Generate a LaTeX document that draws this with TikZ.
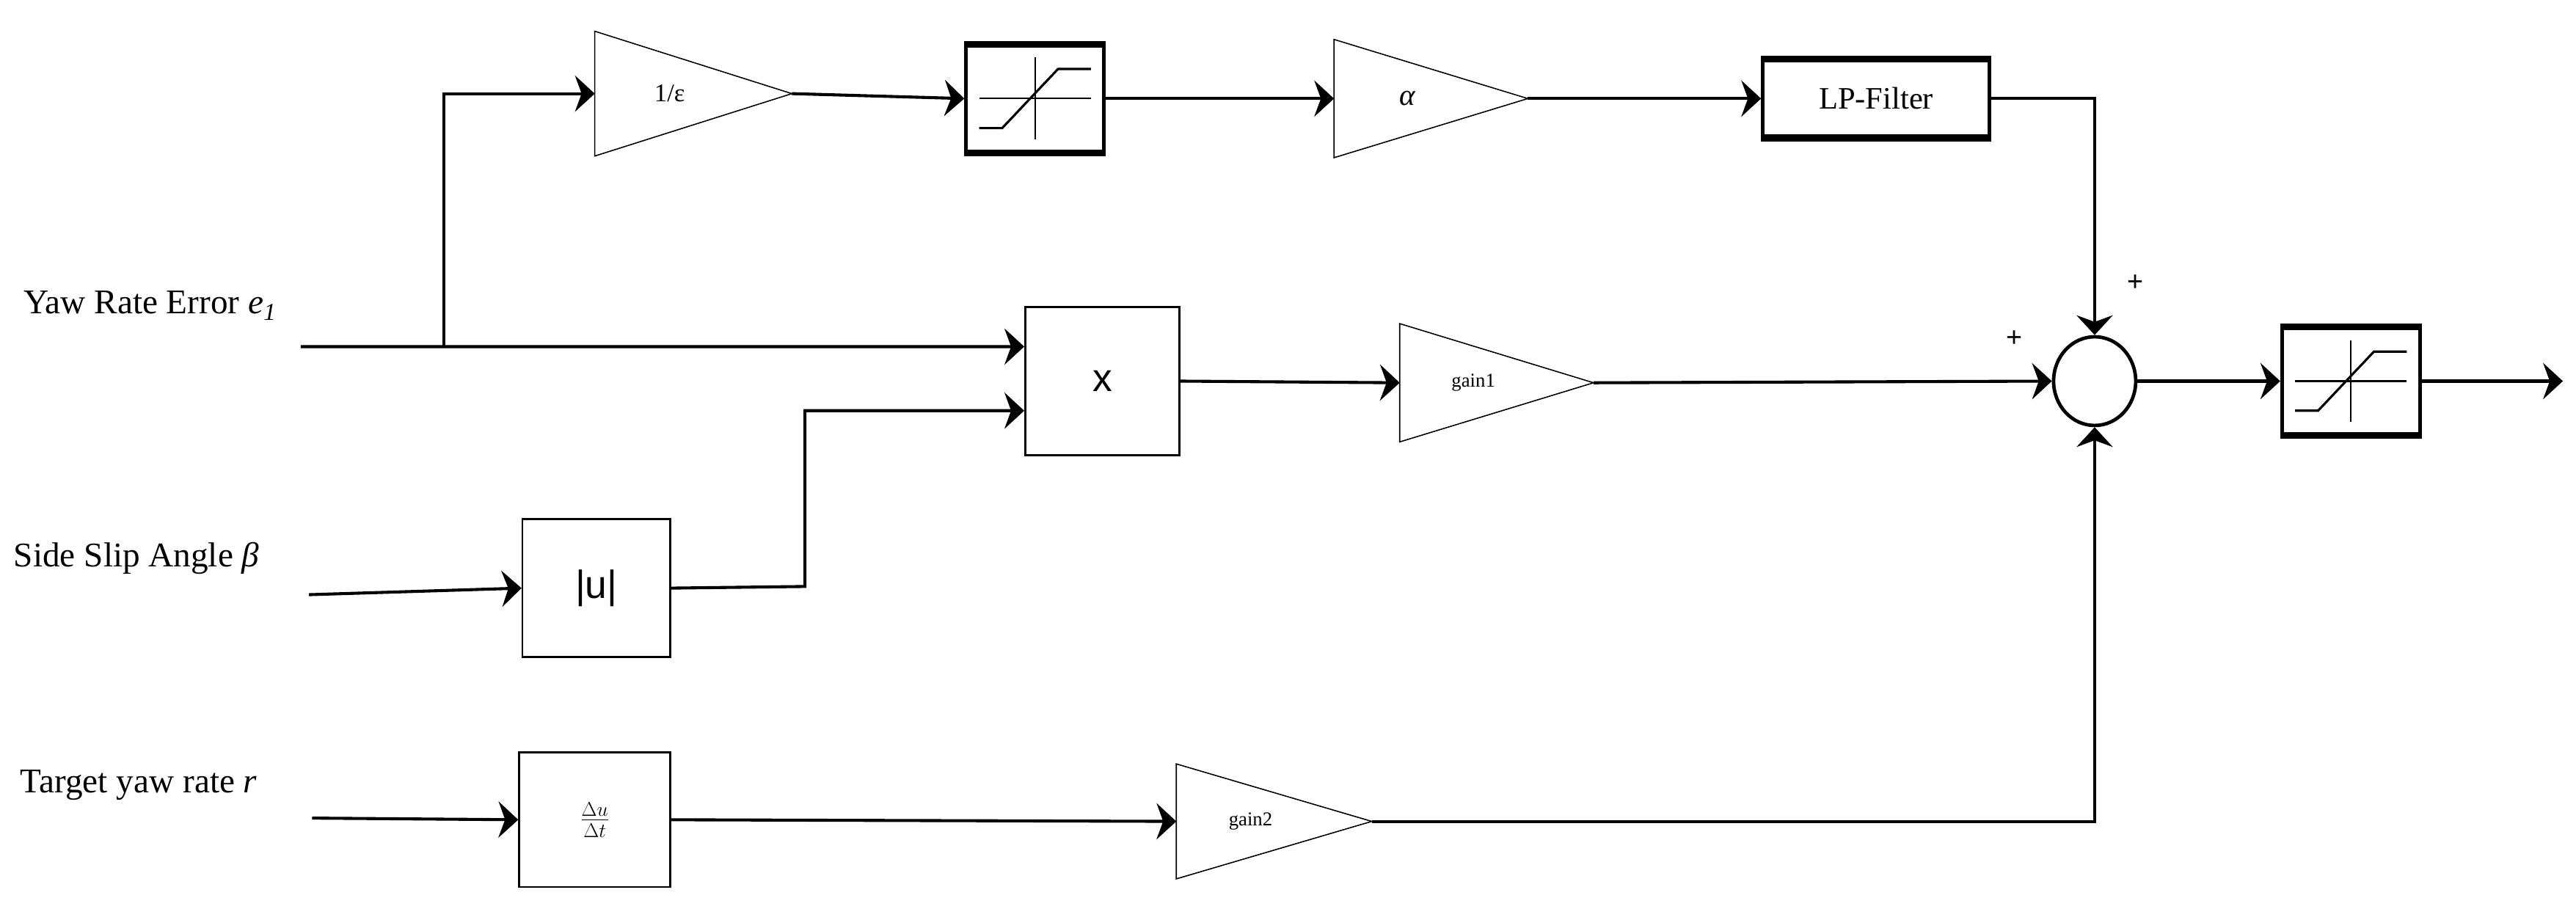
\documentclass[tikz,border=0pt]{standalone}
\usepackage{fontspec}
\setmainfont{Liberation Serif}
\newfontfamily\sansf{Liberation Sans}
\usetikzlibrary{arrows.meta,shapes.geometric}
\begin{document}
\begin{tikzpicture}[x=0.5mm,y=-0.5mm,
  conn/.style={line width=2.6pt,-{Stealth[length=6mm,width=11mm,inset=2mm]}},
  wire/.style={line width=2.6pt},
  blk/.style={draw,line width=1.6pt,minimum width=#1,inner sep=0pt},
  gain/.style={line width=1pt},
  lbl/.style={font=\fontsize{30}{34}\selectfont,anchor=west},
  satbox/.style={draw,line width=3pt,minimum width=42mm,minimum height=32mm}]
\useasboundingbox (0,0) rectangle (1568,560);
% labels
\node[lbl] (l1) at (12,186) {Yaw Rate Error \textit{e\textsubscript{1}}};
\node[lbl] (l2) at (6,340) {Side Slip Angle \textit{β}};
\node[lbl] (l3) at (10,478) {Target yaw rate \textit{r}};
\coordinate (s1) at (183,211);
\coordinate (s2) at (188,362);
\coordinate (s3) at (190,498);
\coordinate (br) at (270,211);
% gains (triangles)
\newcommand\gaintri[6]{% name, x left, x right, y center, half height, text
  \draw[gain,fill=white] (#2,#4-#5) -- (#3,#4) -- (#2,#4+#5) -- cycle;
  \coordinate (#1in) at (#2,#4); \coordinate (#1out) at (#3,#4);
  \node (#1) at ({#2+(#3-#2)*0.38},#4) {#6};}
\gaintri{ge}{362}{482}{57}{38}{\fontsize{22}{24}\selectfont 1/ε}
\gaintri{ga}{812}{930}{60}{36}{\fontsize{26}{28}\selectfont\textit{α}}
\gaintri{g1}{852}{970}{233}{36}{\fontsize{17}{20}\selectfont gain1}
\gaintri{g2}{716}{835}{500}{35}{\fontsize{17}{20}\selectfont gain2}
% saturation blocks
\newcommand\satur[3]{% name, x, y
  \node[satbox] (#1) at (#2,#3) {};
  \draw[line width=6pt] (#1.north west) -- (#1.north east) (#1.south west) -- (#1.south east);
  \draw[line width=1.4pt] ([xshift=-17mm]#1.center) -- ([xshift=17mm]#1.center)
     ([yshift=-12.5mm]#1.center) -- ([yshift=12.5mm]#1.center);
  \draw[line width=2pt] ([xshift=-17mm,yshift=-9mm]#1.center) -- ([xshift=-10mm,yshift=-9mm]#1.center)
     -- ([xshift=7mm,yshift=9mm]#1.center) -- ([xshift=17mm,yshift=9mm]#1.center);}
\satur{sat1}{630}{60}
\satur{sat2}{1431}{232}
% LP filter
\node[draw,line width=3pt,minimum width=69mm,minimum height=23mm] (lp) at (1142,60)
  {\fontsize{27}{30}\selectfont LP-Filter};
\draw[line width=6pt] (lp.north west) -- (lp.north east) (lp.south west) -- (lp.south east);
% multiply
\node[blk=47mm,minimum height=45mm] (mul) at (671,232) {\sansf\fontsize{34}{36}\selectfont x};
\node[blk=45mm,minimum height=42mm] (abs) at (363,358) {\sansf\fontsize{34}{36}\selectfont |u|};
\node[blk=46mm,minimum height=41mm] (der) at (362,499) {\fontsize{26}{28}\selectfont $\frac{\Delta u}{\Delta t}$};
% sum
\node[draw,ellipse,line width=3pt,minimum width=25mm,minimum height=27mm,inner sep=0pt] (sum) at (1275,232) {};
\node[font=\sansf\fontsize{24}{26}\selectfont] (p1) at (1300,172) {+};
\node[font=\sansf\fontsize{24}{26}\selectfont] (p2) at (1226,206) {+};
\coordinate (mulin1) at ([yshift=10.5mm]mul.west);
\coordinate (mulin2) at ([yshift=-9mm]mul.west);
\coordinate (out) at (1560,232);
% connectors
\draw[conn] (s1) -- (mulin1);
\draw[conn] (br) |- (gein);
\draw[conn] (geout) -- (sat1.west);
\draw[conn] (sat1.east) -- (gain);
\draw[conn] (gaout) -- (lp.west);
\draw[conn] (lp.east) -| (sum.north);
\draw[conn] (s2) -- (abs.west);
\draw[conn] (abs.east) -- (490,357) |- (mulin2);
\draw[conn] (mul.east) -- (g1in);
\draw[conn] (g1out) -- (sum.west);
\draw[conn] (s3) -- (der.west);
\draw[conn] (der.east) -- (g2in);
\draw[conn] (g2out) -| (sum.south);
\draw[conn] (sum.east) -- (sat2.west);
\draw[conn] (sat2.east) -- (out);
\end{tikzpicture}
\end{document}
